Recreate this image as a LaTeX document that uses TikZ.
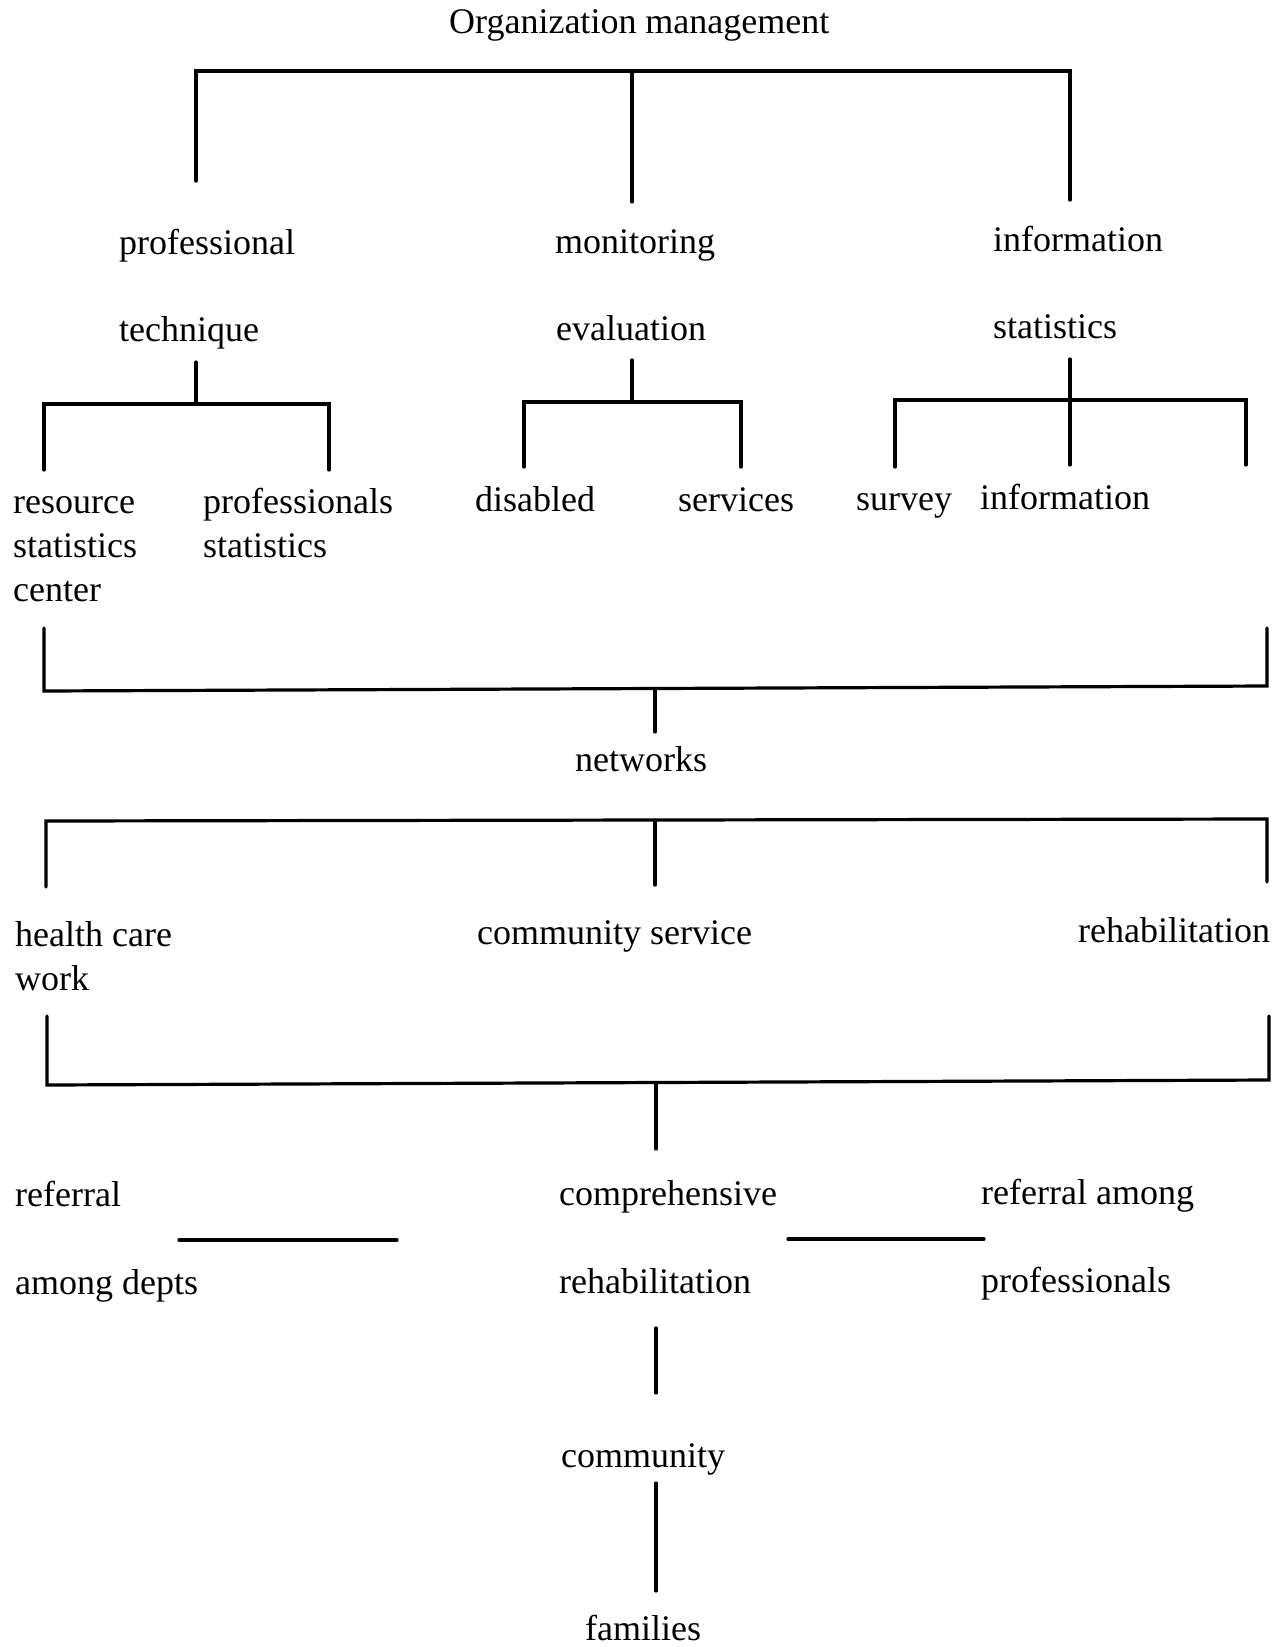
\documentclass[tikz,border=0pt]{standalone}
\usepackage{fontspec}
\setmainfont{Liberation Serif}

\tikzset{
    lbl/.style={anchor=base west, inner sep=0pt, font=\fontsize{36}{44}\selectfont},
    bar/.style={line width=3.2pt, line cap=round, line join=miter}
}

\begin{document}
\begin{tikzpicture}[x=1pt, y=-1pt]

    \useasboundingbox (0,0) rectangle (1280,1647);

    % ============================================================
    % TOP LEVEL
    % ============================================================
    \node[lbl] (org) at (449,33) {Organization management};

    \coordinate (tl) at (196,71);
    \coordinate (tm) at (632,71);
    \coordinate (tr) at (1070,71);
    \draw[bar] (tl |- 0,181) -- (tl) -- (tr) -- (tr |- 0,200);
    \draw[bar] (tm) -- (tm |- 0,202);

    % ============================================================
    % SECOND LEVEL
    % ============================================================
    \node[lbl] (prof) at (119,254) {professional};
    \node[lbl] (tech) at (119,341) {technique};
    \node[lbl] (moni) at (555,253) {monitoring};
    \node[lbl] (eval) at (556,340) {evaluation};
    \node[lbl] (info) at (993,251) {information};
    \node[lbl] (stat) at (993,338) {statistics};

    % ============================================================
    % TECHNIQUE BRANCH
    % ============================================================
    \coordinate (techtop) at (196,362);
    \coordinate (techbar) at (196,404);
    \draw[bar] (techtop) -- (techbar);
    \draw[bar] (44,470) -- (44,404) -- (329,404) -- (329,470);

    % ============================================================
    % EVALUATION BRANCH
    % ============================================================
    \coordinate (evaltop) at (632,360);
    \coordinate (evalbar) at (632,402);
    \draw[bar] (evaltop) -- (evalbar);
    \draw[bar] (524,467) -- (524,402) -- (741,402) -- (741,467);

    % ============================================================
    % STATISTICS BRANCH
    % ============================================================
    \coordinate (stattop) at (1070,359);
    \coordinate (statbot) at (1070,465);
    \draw[bar] (stattop) -- (statbot);
    \draw[bar] (895,467) -- (895,400) -- (1246,400) -- (1246,465);

    % ============================================================
    % THIRD LEVEL
    % ============================================================
    \node[lbl] (res1) at (13,513) {resource};
    \node[lbl] (res2) at (13,557) {statistics};
    \node[lbl] (res3) at (13,601) {center};
    \node[lbl] (pro1) at (203,513) {professionals};
    \node[lbl] (pro2) at (203,557) {statistics};
    \node[lbl] (dis)  at (475,511) {disabled};
    \node[lbl] (serv) at (678,511) {services};
    \node[lbl] (surv) at (856,510) {survey};
    \node[lbl] (inf2) at (980,509) {information};

    % ============================================================
    % JOIN TO NETWORKS
    % ============================================================
    \coordinate (jl) at (44,691);
    \coordinate (jr) at (1267,686);
    \coordinate (jm) at (655,689);
    \draw[bar] (jl |- 0,628) -- (jl) -- (jr) -- (jr |- 0,628);
    \draw[bar] (jm) -- (655,732);

    \node[lbl] (net) at (575,771) {networks};

    \coordinate (nl) at (46,821);
    \coordinate (nr) at (1267,819);
    \draw[bar] (nl |- 0,887) -- (nl) -- (nr) -- (nr |- 0,882);
    \draw[bar] (655,820) -- (655,885);

    % ============================================================
    % NETWORK MEMBERS
    % ============================================================
    \node[lbl] (hc1)  at (15,946) {health care};
    \node[lbl] (hc2)  at (15,990) {work};
    \node[lbl] (comm) at (477,944) {community service};
    \node[lbl] (rehb) at (1078,942) {rehabilitation};

    \coordinate (rl) at (47,1085);
    \coordinate (rr) at (1269,1080);
    \coordinate (rm) at (656,1083);
    \draw[bar] (rl |- 0,1016) -- (rl) -- (rr) -- (rr |- 0,1016);
    \draw[bar] (rm) -- (656,1149);

    % ============================================================
    % COMPREHENSIVE REHABILITATION
    % ============================================================
    \node[lbl] (ref1) at (15,1206) {referral};
    \node[lbl] (ref2) at (15,1294) {among depts};
    \node[lbl] (cmp1) at (559,1205) {comprehensive};
    \node[lbl] (cmp2) at (559,1293) {rehabilitation};
    \node[lbl] (rap1) at (981,1204) {referral among};
    \node[lbl] (rap2) at (981,1292) {professionals};

    \draw[bar] (179,1240) -- (397,1240);
    \draw[bar] (788,1239) -- (984,1239);

    % ============================================================
    % COMMUNITY AND FAMILIES
    % ============================================================
    \draw[bar] (656,1328) -- (656,1393);
    \node[lbl] (cmty) at (561,1467) {community};
    \draw[bar] (656,1483) -- (656,1591);
    \node[lbl] (fam) at (585,1640) {families};

\end{tikzpicture}
\end{document}
